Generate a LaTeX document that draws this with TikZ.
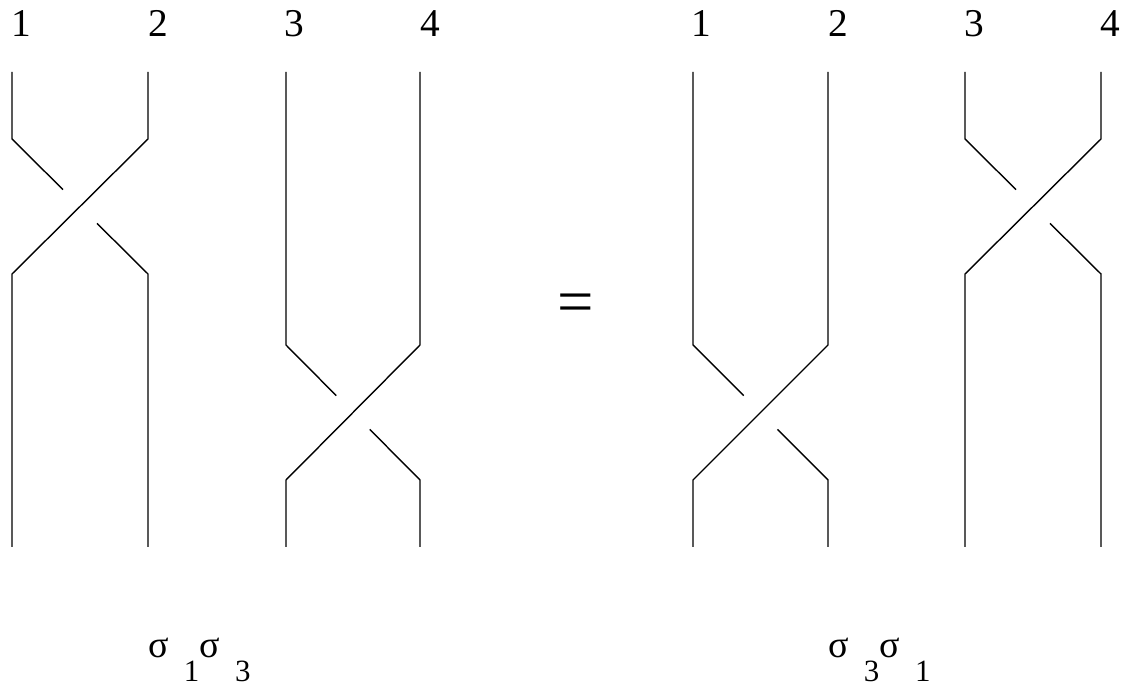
\documentclass[tikz,border=0pt]{standalone}
\usepackage{fontspec}
\setmainfont{Liberation Serif}
\usetikzlibrary{calc}

\begin{document}
\begin{tikzpicture}[
  strand/.style={line width=1pt, line cap=butt, line join=miter, black},
  num/.style={font=\fontsize{28}{34}\selectfont, anchor=base, inner sep=0pt},
  word/.style={font=\fontsize{22}{26}\selectfont, anchor=base west, inner sep=0pt},
]

% Canvas (1124 x 689 px at 0.025cm per px)
\useasboundingbox (0,0) rectangle (28.1,17.225);

% === Strand numbers ===
\node[num] (n1) at (0.525,16.3) {1};
\node[num] (n2) at (3.95,16.3) {2};
\node[num] (n3) at (7.35,16.3) {3};
\node[num] (n4) at (10.75,16.3) {4};
\node[num] (m1) at (17.525,16.3) {1};
\node[num] (m2) at (20.95,16.3) {2};
\node[num] (m3) at (24.35,16.3) {3};
\node[num] (m4) at (27.75,16.3) {4};

% === Left braid: strands 1,2 cross at top ===
\draw[strand] (0.3,15.425) -- (0.3,13.75) -- ($(0.3,13.75)!0.375!(3.7,10.375)$);
\draw[strand] ($(0.3,13.75)!0.625!(3.7,10.375)$) -- (3.7,10.375) -- (3.7,3.55);
\draw[strand] (3.7,15.425) -- (3.7,13.75) -- (0.3,10.375) -- (0.3,3.55);

% === Left braid: strands 3,4 cross at bottom ===
\draw[strand] (7.15,15.425) -- (7.15,8.6) -- ($(7.15,8.6)!0.375!(10.5,5.225)$);
\draw[strand] ($(7.15,8.6)!0.625!(10.5,5.225)$) -- (10.5,5.225) -- (10.5,3.55);
\draw[strand] (10.5,15.425) -- (10.5,8.6) -- (7.15,5.225) -- (7.15,3.55);

% === Equals ===
\node[font=\fontsize{46}{50}\selectfont, inner sep=0pt] (eq) at (14.4,9.51) {=};

% === Right braid: strands 1,2 cross at bottom ===
\draw[strand] (17.325,15.425) -- (17.325,8.6) -- ($(17.325,8.6)!0.375!(20.7,5.225)$);
\draw[strand] ($(17.325,8.6)!0.625!(20.7,5.225)$) -- (20.7,5.225) -- (20.7,3.55);
\draw[strand] (20.7,15.425) -- (20.7,8.6) -- (17.325,5.225) -- (17.325,3.55);

% === Right braid: strands 3,4 cross at top ===
\draw[strand] (24.125,15.425) -- (24.125,13.75) -- ($(24.125,13.75)!0.375!(27.525,10.375)$);
\draw[strand] ($(24.125,13.75)!0.625!(27.525,10.375)$) -- (27.525,10.375) -- (27.525,3.55);
\draw[strand] (27.525,15.425) -- (27.525,13.75) -- (24.125,10.375) -- (24.125,3.55);

% === Words ===
\newcommand\sig{{\fontsize{27}{30}\selectfont σ}}
\node[word] (lword) at (3.7,0.775)
  {\sig\hspace{0.38cm}\raisebox{-0.6cm}{1}\sig\hspace{0.38cm}\raisebox{-0.6cm}{3}};
\node[word] (rword) at (20.7,0.775)
  {\sig\hspace{0.38cm}\raisebox{-0.6cm}{3}\sig\hspace{0.38cm}\raisebox{-0.6cm}{1}};

\end{tikzpicture}
\end{document}
